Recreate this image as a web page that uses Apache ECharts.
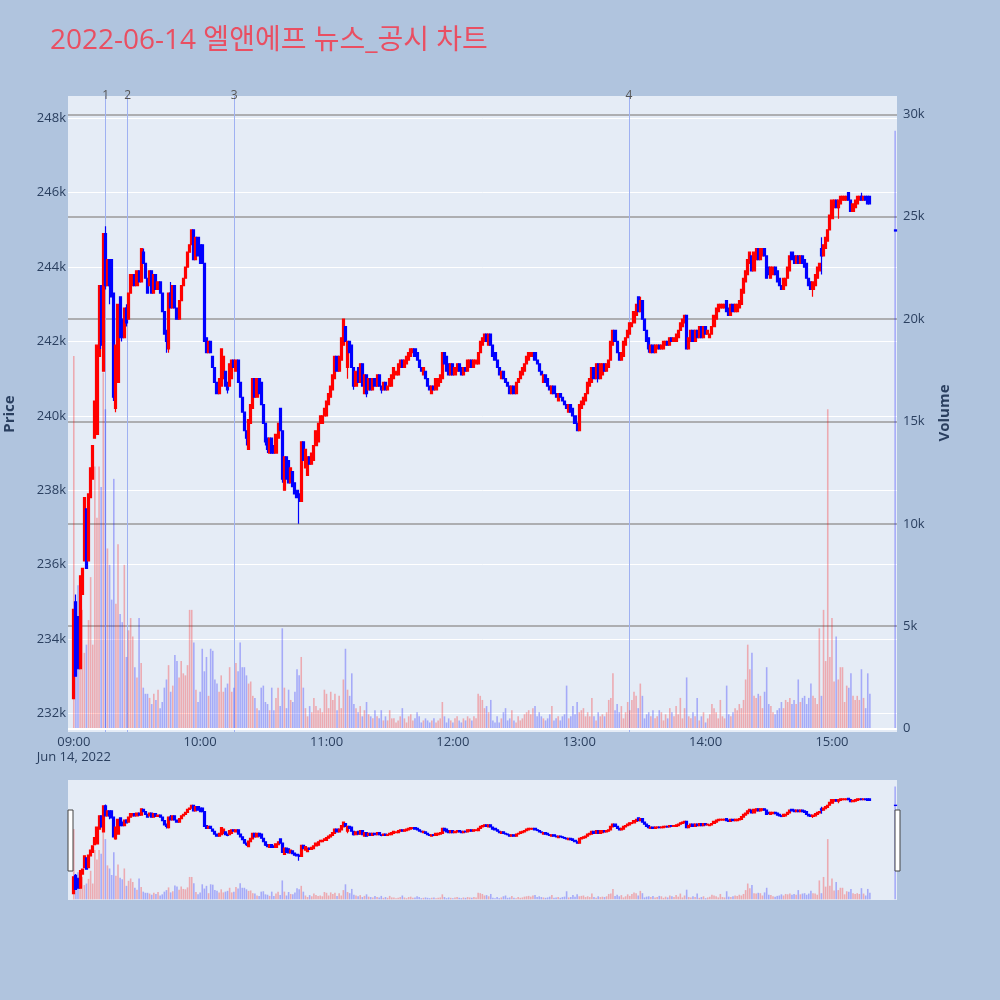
<!DOCTYPE html>
<html><head><meta charset="utf-8">
<script src="https://cdn.jsdelivr.net/npm/echarts@6/dist/echarts.min.js"></script>
<style>html,body{margin:0;padding:0;background:#B0C4DE;} #c{width:1000px;height:1000px;}</style>
</head><body><div id="c"></div>
<script>
const TITLE = '2022-06-14 엘앤에프 뉴스_공시 차트';
const DATE_LABEL = 'Jun 14, 2022';
const PRICE_TITLE = 'Price';
const VOLUME_TITLE = 'Volume';

const TIMES = [
'09:00','09:01','09:02','09:03','09:04','09:05','09:06','09:07','09:08','09:09',
'09:10','09:11','09:12','09:13','09:14','09:15','09:16','09:17','09:18','09:19',
'09:20','09:21','09:22','09:23','09:24','09:25','09:26','09:27','09:28','09:29',
'09:30','09:31','09:32','09:33','09:34','09:35','09:36','09:37','09:38','09:39',
'09:40','09:41','09:42','09:43','09:44','09:45','09:46','09:47','09:48','09:49',
'09:50','09:51','09:52','09:53','09:54','09:55','09:56','09:57','09:58','09:59',
'10:00','10:01','10:02','10:03','10:04','10:05','10:06','10:07','10:08','10:09',
'10:10','10:11','10:12','10:13','10:14','10:15','10:16','10:17','10:18','10:19',
'10:20','10:21','10:22','10:23','10:24','10:25','10:26','10:27','10:28','10:29',
'10:30','10:31','10:32','10:33','10:34','10:35','10:36','10:37','10:38','10:39',
'10:40','10:41','10:42','10:43','10:44','10:45','10:46','10:47','10:48','10:49',
'10:50','10:51','10:52','10:53','10:54','10:55','10:56','10:57','10:58','10:59',
'11:00','11:01','11:02','11:03','11:04','11:05','11:06','11:07','11:08','11:09',
'11:10','11:11','11:12','11:13','11:14','11:15','11:16','11:17','11:18','11:19',
'11:20','11:21','11:22','11:23','11:24','11:25','11:26','11:27','11:28','11:29',
'11:30','11:31','11:32','11:33','11:34','11:35','11:36','11:37','11:38','11:39',
'11:40','11:41','11:42','11:43','11:44','11:45','11:46','11:47','11:48','11:49',
'11:50','11:51','11:52','11:53','11:54','11:55','11:56','11:57','11:58','11:59',
'12:00','12:01','12:02','12:03','12:04','12:05','12:06','12:07','12:08','12:09',
'12:10','12:11','12:12','12:13','12:14','12:15','12:16','12:17','12:18','12:19',
'12:20','12:21','12:22','12:23','12:24','12:25','12:26','12:27','12:28','12:29',
'12:30','12:31','12:32','12:33','12:34','12:35','12:36','12:37','12:38','12:39',
'12:40','12:41','12:42','12:43','12:44','12:45','12:46','12:47','12:48','12:49',
'12:50','12:51','12:52','12:53','12:54','12:55','12:56','12:57','12:58','12:59',
'13:00','13:01','13:02','13:03','13:04','13:05','13:06','13:07','13:08','13:09',
'13:10','13:11','13:12','13:13','13:14','13:15','13:16','13:17','13:18','13:19',
'13:20','13:21','13:22','13:23','13:24','13:25','13:26','13:27','13:28','13:29',
'13:30','13:31','13:32','13:33','13:34','13:35','13:36','13:37','13:38','13:39',
'13:40','13:41','13:42','13:43','13:44','13:45','13:46','13:47','13:48','13:49',
'13:50','13:51','13:52','13:53','13:54','13:55','13:56','13:57','13:58','13:59',
'14:00','14:01','14:02','14:03','14:04','14:05','14:06','14:07','14:08','14:09',
'14:10','14:11','14:12','14:13','14:14','14:15','14:16','14:17','14:18','14:19',
'14:20','14:21','14:22','14:23','14:24','14:25','14:26','14:27','14:28','14:29',
'14:30','14:31','14:32','14:33','14:34','14:35','14:36','14:37','14:38','14:39',
'14:40','14:41','14:42','14:43','14:44','14:45','14:46','14:47','14:48','14:49',
'14:50','14:51','14:52','14:53','14:54','14:55','14:56','14:57','14:58','14:59',
'15:00','15:01','15:02','15:03','15:04','15:05','15:06','15:07','15:08','15:09',
'15:10','15:11','15:12','15:13','15:14','15:15','15:16','15:17','15:18',
'15:30'
];

// prices in thousands of KRW
const OPEN = [
232.4,235.0,234.6,233.2,235.2,236.1,237.5,236.1,237.8,238.3,
239.4,239.5,241.6,243.5,241.2,244.9,243.5,244.2,244.2,243.3,
240.2,240.9,243.2,242.6,242.1,242.9,242.6,243.3,243.5,243.8,
243.5,243.9,243.6,244.4,244.1,243.7,243.5,243.9,243.3,243.8,
243.4,243.6,243.3,242.8,242.3,241.8,243.3,242.9,243.5,242.9,
242.6,243.1,243.5,243.7,244.0,244.4,244.6,245.0,244.2,244.8,
244.6,244.6,244.1,242.1,241.7,242.0,241.6,241.3,240.9,240.6,
240.8,241.0,241.2,240.9,240.8,241.0,241.5,241.2,241.5,240.9,
240.5,240.1,239.6,239.1,239.8,240.2,241.0,240.5,241.0,240.9,
240.3,239.8,239.4,239.0,239.4,239.2,239.0,239.4,240.2,239.6,
238.0,238.9,238.8,238.2,238.5,238.2,238.0,237.9,237.7,239.3,
238.6,238.4,238.9,238.7,238.8,239.2,239.3,239.8,239.8,240.0,
240.0,240.3,240.5,240.7,241.0,241.6,241.2,241.5,241.9,242.4,
241.3,242.0,241.9,241.3,240.8,241.3,240.9,241.4,240.6,241.1,
240.7,241.0,240.7,241.0,240.8,241.1,240.8,240.7,240.9,240.7,
240.8,240.8,241.0,241.1,241.1,241.3,241.5,241.3,241.4,241.5,
241.6,241.7,241.8,241.7,241.5,241.3,241.1,241.2,241.0,240.8,
240.6,240.8,240.7,240.8,240.9,241.0,241.7,241.6,241.4,241.1,
241.4,241.1,241.2,241.4,241.3,241.1,241.3,241.2,241.3,241.5,
241.3,241.4,241.4,241.7,241.9,242.0,242.2,241.9,242.2,241.9,
241.7,241.5,241.3,241.0,241.2,241.0,240.9,240.8,240.6,240.8,
240.6,240.9,241.0,241.1,241.2,241.4,241.5,241.6,241.6,241.7,
241.5,241.4,241.2,240.9,241.1,241.0,240.8,240.6,240.8,240.6,
240.4,240.6,240.5,240.4,240.3,240.1,240.3,240.2,240.0,239.8,
239.6,240.2,240.3,240.4,240.6,240.8,240.9,241.3,241.0,241.4,
241.0,241.1,241.4,241.2,241.3,241.5,241.9,242.3,242.0,241.7,
241.5,241.6,241.9,242.1,242.2,242.4,242.5,242.7,243.2,242.8,
243.1,242.6,242.3,242.1,241.7,241.9,241.7,241.8,241.9,241.8,
241.8,241.9,242.0,241.9,242.1,242.0,242.0,242.1,242.3,242.4,
242.5,242.7,241.8,242.0,242.3,242.0,242.3,242.1,242.4,242.1,
242.4,242.2,242.1,242.2,242.4,242.6,242.8,242.9,242.9,242.9,
243.1,242.9,242.7,243.0,242.8,242.8,242.9,243.0,243.3,243.6,
243.8,244.1,244.3,243.9,244.2,244.5,244.2,244.3,244.5,244.3,
244.0,243.7,243.8,244.0,243.9,243.7,243.5,243.4,243.5,243.7,
243.9,244.4,244.3,244.1,244.3,244.1,244.3,244.2,244.1,243.7,
243.6,243.4,243.5,243.7,243.9,244.5,244.3,244.5,244.7,245.0,
245.3,245.6,245.8,245.6,245.7,245.8,245.8,245.8,246.0,245.8,
245.5,245.6,245.7,245.8,245.9,245.8,245.9,245.9,245.9,
245.0
];
const CLOSE = [
234.8,233.0,233.2,235.7,235.9,237.8,235.9,237.9,238.6,239.2,
240.4,241.9,243.5,241.9,244.9,243.5,244.2,243.5,243.2,240.5,
241.9,243.0,242.1,242.1,242.9,242.5,243.3,243.8,243.8,243.5,
243.9,243.6,244.5,244.1,243.7,243.3,243.9,243.3,243.8,243.4,
243.6,243.3,242.8,242.2,242.0,243.3,242.9,243.5,242.9,242.6,
243.1,243.5,243.7,244.0,244.4,244.6,245.0,244.2,244.8,244.3,
244.1,244.1,242.0,241.7,242.0,241.7,241.3,240.9,240.6,241.0,
241.8,241.6,240.8,240.7,241.4,241.5,241.3,241.5,240.9,240.5,
240.1,239.6,239.4,239.9,240.3,241.0,240.5,241.0,240.6,240.3,
239.8,239.3,239.1,239.4,239.0,239.0,239.5,239.8,239.6,238.3,
238.9,238.3,238.2,238.6,238.1,237.9,237.8,237.7,239.3,238.8,
239.1,238.9,238.7,239.0,239.2,239.6,239.8,240.0,240.0,240.2,
240.4,240.6,240.8,241.1,241.6,241.2,241.6,242.1,242.6,242.0,
242.0,241.7,241.3,240.8,241.2,240.9,241.4,240.8,241.1,240.6,
241.0,240.7,241.0,240.8,241.1,240.8,240.7,240.9,240.7,240.8,
241.0,241.1,241.3,241.2,241.4,241.5,241.3,241.5,241.6,241.7,
241.8,241.8,241.6,241.5,241.3,241.2,241.3,241.0,240.8,240.7,
240.8,240.7,241.0,241.0,241.1,241.7,241.4,241.2,241.1,241.4,
241.1,241.3,241.4,241.2,241.1,241.3,241.2,241.5,241.5,241.3,
241.5,241.5,241.7,242.0,242.1,242.2,242.0,242.2,241.9,241.6,
241.5,241.3,241.1,241.2,241.0,240.9,240.8,240.6,240.8,240.6,
240.9,241.0,241.2,241.3,241.4,241.6,241.7,241.7,241.7,241.5,
241.4,241.2,241.1,241.1,240.9,240.8,240.7,240.8,240.6,240.5,
240.6,240.5,240.4,240.3,240.2,240.3,240.1,240.0,239.8,239.6,
240.3,240.4,240.5,240.6,240.9,241.0,241.3,241.0,241.4,241.0,
241.4,241.4,241.2,241.4,241.5,242.0,242.3,242.0,241.7,241.5,
241.7,242.0,242.1,242.3,242.5,242.5,242.8,243.0,242.8,243.1,
242.6,242.3,242.0,241.8,241.9,241.7,241.9,241.9,241.8,241.9,
242.0,242.0,241.9,242.1,242.0,242.1,242.2,242.3,242.5,242.6,
242.7,241.8,242.1,242.3,242.0,242.3,242.1,242.4,242.1,242.4,
242.2,242.3,242.2,242.4,242.7,242.9,243.0,243.0,243.0,243.0,
242.8,242.7,243.0,242.8,243.0,243.0,243.1,243.4,243.7,243.9,
244.2,244.4,243.9,244.4,244.5,244.2,244.5,244.5,244.3,243.7,
243.8,244.0,244.0,243.8,243.6,243.5,243.4,243.7,243.7,244.0,
244.3,244.2,244.1,244.3,244.1,244.3,244.1,244.0,243.7,243.5,
243.4,243.6,243.8,244.0,244.1,244.3,244.6,244.8,245.0,245.4,
245.8,245.8,245.6,245.8,245.9,245.9,245.9,245.9,245.8,245.5,
245.7,245.8,245.9,245.9,245.8,245.9,245.8,245.7,245.7,
244.97
];
const LOW = [
232.4,233.0,233.2,233.2,235.2,236.1,235.9,236.1,237.8,238.3,
239.4,239.5,241.6,241.8,241.2,243.4,243.5,243.0,243.2,240.4,
240.1,240.9,242.1,242.0,242.1,242.4,242.6,243.3,243.5,243.5,
243.5,243.6,243.6,244.1,243.7,243.3,243.5,243.3,243.3,243.4,
243.4,243.3,242.8,242.2,241.7,241.7,242.9,242.9,242.9,242.6,
242.6,243.1,243.5,243.7,244.0,244.4,244.6,244.2,244.2,244.3,
244.1,244.1,242.0,241.7,241.7,241.7,241.3,240.9,240.6,240.6,
240.8,241.0,240.8,240.6,240.8,241.0,241.3,241.2,240.9,240.5,
240.1,239.6,239.2,239.1,239.8,240.2,240.5,240.5,240.6,240.3,
239.8,239.2,239.0,239.0,239.0,239.0,239.0,239.4,239.6,238.2,
238.0,238.3,238.2,238.2,238.1,237.9,237.8,237.1,237.7,238.8,
238.6,238.4,238.7,238.7,238.8,239.2,239.3,239.8,239.8,240.0,
240.0,240.3,240.5,240.7,241.0,241.2,241.2,241.5,241.9,242.0,
241.0,241.7,241.3,240.7,240.8,240.9,240.9,240.8,240.6,240.5,
240.7,240.7,240.7,240.8,240.8,240.8,240.6,240.7,240.7,240.7,
240.8,240.8,241.0,241.1,241.1,241.3,241.3,241.3,241.4,241.5,
241.6,241.7,241.6,241.5,241.3,241.2,241.1,241.0,240.8,240.7,
240.6,240.7,240.7,240.8,240.9,241.0,241.4,241.2,241.1,241.1,
241.1,241.1,241.2,241.2,241.1,241.1,241.2,241.2,241.3,241.3,
241.3,241.4,241.4,241.7,241.9,242.0,242.0,241.9,241.9,241.6,
241.5,241.3,241.1,241.0,241.0,240.9,240.8,240.6,240.6,240.6,
240.6,240.9,241.0,241.1,241.2,241.4,241.5,241.6,241.6,241.5,
241.4,241.2,241.1,240.9,240.9,240.8,240.7,240.6,240.6,240.5,
240.4,240.5,240.4,240.3,240.2,240.1,240.1,240.0,239.8,239.6,
239.6,240.2,240.3,240.4,240.6,240.8,240.9,241.0,241.0,240.9,
241.0,241.1,241.2,241.2,241.3,241.5,241.9,242.0,241.7,241.5,
241.5,241.6,241.9,242.1,242.2,242.4,242.5,242.7,242.8,242.8,
242.6,242.3,242.0,241.7,241.7,241.7,241.7,241.8,241.8,241.8,
241.8,241.9,241.9,241.9,242.0,242.0,242.0,242.1,242.3,242.4,
242.5,241.8,241.8,242.0,242.0,242.0,242.1,242.1,242.1,242.1,
242.2,242.2,242.1,242.2,242.4,242.6,242.8,242.9,242.9,242.9,
242.8,242.7,242.7,242.8,242.8,242.8,242.9,243.0,243.3,243.6,
243.8,244.1,243.9,243.9,244.2,244.2,244.2,244.3,244.3,243.7,
243.8,243.7,243.8,243.8,243.6,243.5,243.4,243.4,243.5,243.7,
243.9,244.2,244.1,244.1,244.1,244.1,244.1,244.0,243.7,243.5,
243.4,243.2,243.5,243.7,243.9,243.8,244.3,244.5,244.7,245.0,
245.3,245.6,245.6,245.3,245.7,245.8,245.8,245.8,245.8,245.5,
245.5,245.6,245.7,245.8,245.8,245.8,245.8,245.7,245.7,
244.97
];
const HIGH = [
234.8,235.2,234.6,235.7,235.9,237.8,237.5,237.9,238.6,239.2,
240.4,241.9,243.5,243.5,244.9,245.1,244.2,244.2,244.2,243.3,
241.9,243.0,243.2,242.6,242.9,243.0,243.3,243.8,243.8,243.8,
243.9,243.9,244.5,244.5,244.1,243.7,243.9,243.9,243.8,243.8,
243.6,243.6,243.3,242.8,242.3,243.3,243.6,243.5,243.5,242.9,
243.1,243.5,243.7,244.0,244.4,244.6,245.0,245.0,244.8,244.8,
244.6,244.6,244.1,242.1,242.0,242.0,241.6,241.3,240.9,241.0,
241.8,241.6,241.2,240.9,241.4,241.5,241.5,241.5,241.5,240.9,
240.5,240.1,239.6,239.9,240.3,241.0,241.0,241.0,241.0,240.9,
240.3,239.8,239.4,239.4,239.4,239.2,239.5,239.8,240.2,239.6,
238.9,238.9,238.8,238.6,238.5,238.2,238.0,237.9,239.3,239.3,
239.1,238.9,238.9,239.0,239.2,239.6,239.8,240.0,240.0,240.2,
240.4,240.6,240.8,241.1,241.6,241.6,241.6,242.1,242.6,242.4,
242.0,242.0,241.9,241.3,241.2,241.3,241.4,241.4,241.1,241.1,
241.0,241.0,241.0,241.0,241.1,241.1,240.8,240.9,240.9,240.8,
241.0,241.1,241.3,241.2,241.4,241.5,241.5,241.5,241.6,241.7,
241.8,241.8,241.8,241.7,241.5,241.3,241.3,241.2,241.0,240.8,
240.8,240.8,241.0,241.0,241.1,241.7,241.7,241.6,241.4,241.4,
241.4,241.3,241.4,241.4,241.3,241.3,241.3,241.5,241.5,241.5,
241.5,241.5,241.7,242.0,242.1,242.2,242.2,242.2,242.2,241.9,
241.7,241.5,241.3,241.2,241.2,241.0,240.9,240.8,240.8,240.8,
240.9,241.0,241.2,241.3,241.4,241.6,241.7,241.7,241.7,241.7,
241.5,241.4,241.2,241.1,241.1,241.0,240.8,240.8,240.8,240.6,
240.6,240.6,240.5,240.4,240.3,240.3,240.3,240.2,240.0,239.8,
240.3,240.4,240.5,240.6,240.9,241.0,241.3,241.3,241.4,241.4,
241.4,241.4,241.4,241.4,241.5,242.0,242.3,242.3,242.0,241.7,
241.7,242.0,242.1,242.3,242.5,242.5,242.8,243.0,243.2,243.2,
243.1,242.6,242.3,242.1,241.9,241.9,241.9,241.9,241.9,241.9,
242.0,242.0,242.0,242.1,242.1,242.1,242.2,242.3,242.5,242.6,
242.7,242.7,242.1,242.3,242.3,242.3,242.3,242.4,242.4,242.4,
242.4,242.3,242.2,242.4,242.7,242.9,243.0,243.0,243.0,243.0,
243.1,242.9,243.0,243.0,243.0,243.0,243.1,243.4,243.7,243.9,
244.2,244.4,244.3,244.4,244.5,244.5,244.5,244.5,244.5,244.3,
244.0,244.0,244.0,244.0,243.9,243.7,243.5,243.7,243.7,244.0,
244.3,244.4,244.3,244.3,244.3,244.3,244.3,244.2,244.1,243.7,
243.6,243.6,243.8,244.0,244.1,244.8,244.6,244.8,245.0,245.4,
245.8,245.8,245.8,245.8,245.9,245.9,245.9,245.9,246.0,245.8,
245.7,245.8,245.9,245.9,246.0,245.9,245.9,245.9,245.9,
245.0
];
// volume in thousands of shares
const VOLUME = [
18.2,3.0,7.0,6.6,5.8,3.7,4.1,5.3,7.4,4.1,
12.8,10.3,12.8,11.8,17.4,15.6,8.8,8.0,6.3,12.2,
6.1,9.0,5.6,5.2,8.0,3.5,4.8,5.4,4.5,3.0,
2.5,5.4,3.2,2.0,1.7,1.7,1.5,1.2,1.7,1.4,
1.9,1.0,1.3,2.0,2.4,3.1,1.8,2.1,3.6,3.3,
2.5,3.3,2.7,2.6,3.1,5.8,5.8,4.2,1.9,1.3,
1.8,3.9,2.8,3.5,1.6,3.9,3.8,2.4,2.2,1.8,
2.6,1.8,2.0,2.2,3.0,1.8,2.0,3.2,2.8,4.2,
3.0,3.0,2.6,2.2,2.3,1.6,1.5,1.0,0.9,2.0,
2.1,1.3,1.2,0.9,2.0,0.9,1.5,2.0,1.1,4.9,
2.0,1.0,1.9,1.4,1.3,1.8,2.9,2.6,3.5,2.0,
1.0,0.6,1.1,0.8,1.5,1.1,0.9,1.0,0.8,1.9,
1.7,1.0,1.8,1.4,1.7,0.9,1.6,1.0,2.4,3.9,
1.9,1.6,2.7,1.2,1.0,0.8,1.1,0.6,0.9,1.3,
0.7,0.6,0.5,0.9,0.6,0.5,0.9,0.4,0.6,0.4,
0.9,0.5,0.5,0.3,0.4,0.6,1.0,0.5,0.3,0.6,
0.7,0.4,0.5,0.8,0.6,0.3,0.4,0.5,0.4,0.3,
0.4,0.5,0.3,0.4,0.5,1.3,0.6,0.3,0.5,0.4,
0.3,0.5,0.6,0.4,0.3,0.5,0.4,0.6,0.5,0.4,
0.6,0.5,1.7,1.6,1.4,1.0,1.1,0.8,1.4,0.4,
0.3,0.6,0.3,0.5,0.8,1.0,0.4,0.5,0.9,0.4,
0.3,0.6,0.4,0.5,0.7,0.8,0.9,0.7,1.0,1.1,
0.6,0.8,0.6,0.5,0.4,0.5,0.7,1.1,0.4,0.5,
0.6,0.4,0.6,0.7,2.1,0.5,0.6,1.1,0.7,1.3,
0.8,0.9,1.0,0.6,0.8,0.6,1.5,0.6,0.4,0.8,
0.6,0.7,0.6,0.8,1.4,1.5,2.7,0.9,1.2,0.8,
1.1,0.5,0.8,1.3,0.9,1.4,1.8,1.6,1.0,2.2,
1.6,0.5,0.7,0.8,0.6,0.9,0.5,0.6,0.9,0.8,
0.4,0.7,0.5,1.0,0.8,0.6,1.1,0.7,1.5,0.5,
1.0,2.5,0.6,0.5,0.8,0.6,1.5,0.4,0.6,0.8,
0.3,0.5,0.7,1.2,1.0,0.8,0.5,1.4,0.6,0.5,
2.1,0.7,0.6,0.8,1.0,0.9,1.2,1.0,1.4,2.4,
4.1,2.9,3.7,1.6,1.5,1.7,1.6,1.0,1.8,3.0,
1.2,1.1,0.8,0.7,0.9,1.0,1.3,1.0,1.4,1.3,
1.5,1.2,1.4,1.2,2.4,1.3,1.5,1.6,1.2,1.5,
2.2,1.6,1.5,1.2,4.9,1.6,5.8,3.3,15.6,3.5,
5.4,2.3,4.5,2.4,3.0,3.0,1.3,2.1,2.0,2.7,
1.6,1.4,1.6,1.4,2.9,1.5,1.0,2.7,1.7,
29.2
];

const NEWS_TIMES = ['09:15:06','09:25:36','10:16:12','13:23:36'];
const NEWS_LABELS = ['1','2','3','4'];

const X_RANGE = ['08:57:38','15:30:30'];
const PRICE_RANGE = [231.5, 248.6];
const VOLUME_RANGE = [-0.166, 30.9];

const DAY = Date.UTC(2022, 5, 14);
function ts(s){ const p = s.split(':').map(Number); return DAY + ((p[0]*60 + p[1])*60 + (p[2]||0))*1000; }
function pad(n){ return (n<10?'0':'') + n; }

const UP = '#FF0000', DOWN = '#0000FF';
const UP_VOL = 'rgba(255,0,0,0.28)', DOWN_VOL = 'rgba(0,0,255,0.28)';
const FONT = '"Open Sans", "Noto Sans CJK KR", sans-serif';
const INK = '#2a3f5f';

const candleData = TIMES.map((t,i) => [ts(t), OPEN[i], CLOSE[i], LOW[i], HIGH[i]]);
const volData = TIMES.map((t,i) => ({ value: [ts(t), VOLUME[i]], itemStyle: { color: CLOSE[i] > OPEN[i] ? UP_VOL : DOWN_VOL } }));

const candleStyle = { color: UP, color0: DOWN, borderColor: UP, borderColor0: DOWN, borderColorDoji: DOWN, borderWidth: 1.2 };

const priceLabel = v => { const r = Math.round(v); return (Math.abs(v - r) < 1e-6 && r % 2 === 0) ? r + 'k' : ''; };
const volLabel = v => { const r = Math.round(v); return (Math.abs(v - r) < 1e-6 && r % 5 === 0) ? (r === 0 ? '0' : r + 'k') : ''; };
const timeLabel = v => {
  const d = new Date(v);
  if (d.getUTCMinutes() !== 0 || d.getUTCSeconds() !== 0) return '';
  const s = pad(d.getUTCHours()) + ':00';
  return d.getUTCHours() === 9 ? s + '\n' + DATE_LABEL : s;
};

const chart = echarts.init(document.getElementById('c'), null, { renderer: 'canvas' });
chart.setOption({
  animation: false,
  useUTC: true,
  backgroundColor: '#B0C4DE',
  textStyle: { fontFamily: FONT },
  title: { text: TITLE, left: 50, top: 27, padding: 0, textStyle: { color: '#E94F62', fontSize: 28, fontWeight: 'normal', fontFamily: FONT } },
  grid: [
    { left: 68, right: 103, top: 96, height: 636, show: true, backgroundColor: '#E5ECF6', borderWidth: 0 },
    { left: 68, right: 103, top: 780, height: 120, show: true, backgroundColor: '#E5ECF6', borderWidth: 0 }
  ],
  xAxis: [
    { type: 'time', gridIndex: 0, min: ts(X_RANGE[0]), max: ts(X_RANGE[1]), minInterval: 3600000, maxInterval: 3600000,
      axisLine: { show: false }, axisTick: { show: false }, splitLine: { show: false },
      axisLabel: { color: INK, fontSize: 13, margin: 3, lineHeight: 15, formatter: timeLabel, showMinLabel: false, showMaxLabel: false } },
    { type: 'time', gridIndex: 1, min: ts(X_RANGE[0]), max: ts(X_RANGE[1]), show: false, splitLine: { show: false } }
  ],
  yAxis: [
    { type: 'value', gridIndex: 0, position: 'left', min: PRICE_RANGE[0], max: PRICE_RANGE[1], minInterval: 2, maxInterval: 2,
      axisLine: { show: false }, axisTick: { show: false },
      axisLabel: { color: INK, fontSize: 13, margin: 2, formatter: priceLabel, showMinLabel: false, showMaxLabel: false },
      splitLine: { show: true, showMinLine: false, showMaxLine: false, lineStyle: { color: '#FFFFFF', width: 1 } } },
    { type: 'value', gridIndex: 0, position: 'right', min: VOLUME_RANGE[0], max: VOLUME_RANGE[1], minInterval: 5, maxInterval: 5,
      axisLine: { show: false }, axisTick: { show: false },
      axisLabel: { color: INK, fontSize: 13, margin: 6, formatter: volLabel, showMinLabel: false, showMaxLabel: false },
      splitLine: { show: true, showMinLine: false, showMaxLine: false, lineStyle: { color: '#9a9a9a', width: 1.5 } } },
    { type: 'value', gridIndex: 1, min: PRICE_RANGE[0], max: PRICE_RANGE[1], show: false, splitLine: { show: false } },
    { type: 'value', gridIndex: 1, min: VOLUME_RANGE[0], max: VOLUME_RANGE[1], show: false, splitLine: { show: false } }
  ],
  series: [
    { type: 'bar', name: 'vol', xAxisIndex: 0, yAxisIndex: 1, data: volData, barWidth: 1.6, silent: true, z: 2,
      markLine: { silent: true, symbol: ['none','none'], label: { show: false }, lineStyle: { color: '#FFFFFF', width: 2, type: 'solid', opacity: 1 }, data: [{ yAxis: 0 }] } },
    { type: 'candlestick', name: 'price', xAxisIndex: 0, yAxisIndex: 0, data: candleData, barWidth: 2.6, itemStyle: candleStyle, silent: true, z: 3,
      markLine: { silent: true, symbol: ['none','none'], z: 1,
        lineStyle: { color: '#9FB1F2', width: 1, type: 'solid', opacity: 1 },
        label: { show: true, position: 'end', formatter: '{b}', color: '#555', fontSize: 12, distance: -6 },
        data: NEWS_TIMES.map((t,i) => ({ name: NEWS_LABELS[i], xAxis: ts(t) })) } },
    { type: 'bar', xAxisIndex: 1, yAxisIndex: 3, data: volData, barWidth: 1.6, silent: true, z: 2 },
    { type: 'candlestick', xAxisIndex: 1, yAxisIndex: 2, data: candleData, barWidth: 2.6, itemStyle: candleStyle, silent: true, z: 3 }
  ],
  graphic: [
    { type: 'text', x: 10, y: 414, rotation: Math.PI/2, style: { text: PRICE_TITLE, font: 'bold 15px ' + FONT, fill: INK, textAlign: 'center', textVerticalAlign: 'middle' } },
    { type: 'text', x: 945, y: 413, rotation: Math.PI/2, style: { text: VOLUME_TITLE, font: 'bold 15px ' + FONT, fill: INK, textAlign: 'center', textVerticalAlign: 'middle' } },
    { type: 'rect', x: 68, y: 810, shape: { width: 5, height: 61 }, style: { fill: '#FFFFFF', stroke: '#444', lineWidth: 1 }, z: 100 },
    { type: 'rect', x: 895, y: 810, shape: { width: 5, height: 61 }, style: { fill: '#FFFFFF', stroke: '#444', lineWidth: 1 }, z: 100 }
  ]
});
</script>
</body></html>
